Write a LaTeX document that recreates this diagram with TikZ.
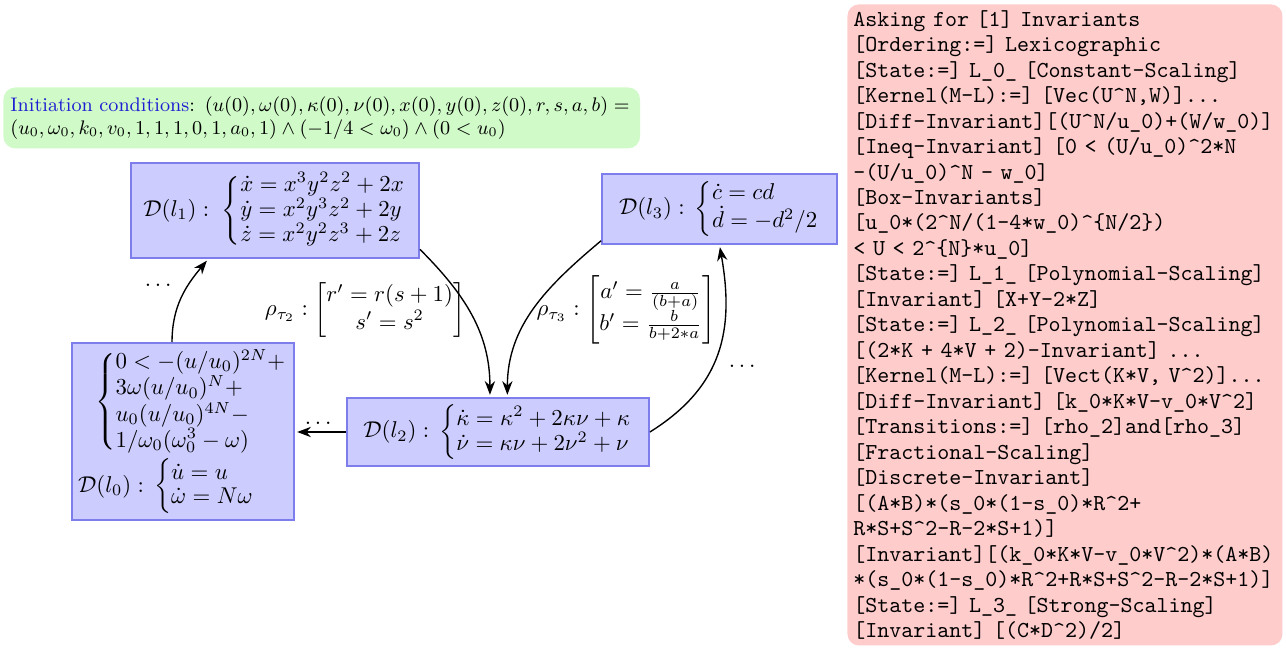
\documentclass[tikz,border=0pt]{standalone}
\usepackage{amsmath,amssymb}
\usetikzlibrary{arrows.meta}
\definecolor{boxfill}{RGB}{204,204,255}
\definecolor{boxline}{RGB}{125,125,235}
\definecolor{greenfill}{RGB}{208,250,200}
\definecolor{pinkfill}{RGB}{255,204,204}
\definecolor{initblue}{RGB}{30,30,210}
\newcommand\pu{0.4375pt}
\newcommand\tc{\textasciicircum}
\newcommand\mycases[2][0.85]{\left\{\def\arraystretch{#1}\begin{array}{@{}l@{}}#2\end{array}\right.}
\begin{document}
\begin{tikzpicture}[x=\pu,y=\pu,
  every node/.style={font=\fontsize{10}{12}\selectfont},
  sysbox/.style={draw=boxline, fill=boxfill, line width=0.8pt, inner sep=2pt, align=center},
  arr/.style={-{Stealth[length=6pt,width=4.5pt]}, semithick, shorten >=1pt},
  dotlabel/.style={inner sep=1pt}
  ]
\useasboundingbox (0,0) rectangle (1286,-648);
% initiation conditions
\node[fill=greenfill, scale=0.955, rounded corners=5.2pt, anchor=north west, inner xsep=7.3*\pu, inner ysep=0pt,
  text width=652*\pu, minimum height=63.9*\pu, align=left, font=\fontsize{9}{10.5}\selectfont] (init) at (3,-87)
  {\mbox{{\color{initblue}Initiation conditions}: $(u(0),\omega(0),\kappa(0),\nu(0),x(0),y(0),z(0),r,s,a,b) =$}\\
   $(u_0,\omega_0,k_0,v_0,1,1,1,0,1,a_0,1)\wedge(-1/4<\omega_0)\wedge(0<u_0)$};
% systems
\node[sysbox, minimum width=288*\pu, minimum height=95*\pu] (l1) at (275,-210.5)
  {$\mathcal{D}(l_1) :\; \mycases[0.82]{\dot x = x^3y^2z^2+2x\\ \dot y = x^2y^3z^2+2y\\ \dot z = x^2y^2z^3+2z}$};
\node[sysbox, minimum width=235*\pu, minimum height=70*\pu] (l3) at (719.5,-209)
  {$\mathcal{D}(l_3) :\, \mycases{\dot c = cd\\ \dot d = -d^2/2}$};
\node[sysbox, minimum width=222*\pu, minimum height=177*\pu, align=left] (l0) at (183,-431.5)
  {\hspace*{7.5pt}$\mycases[0.88]{0 < -(u/u_0)^{2N}+\\ 3\omega(u/u_0)^N+\\ u_0(u/u_0)^{4N}-\\ 1/\omega_0(\omega_0^3-\omega)}$\\[1pt]
   $\mathcal{D}(l_0) :\, \mycases[0.88]{\dot u = u\\ \dot\omega = N\omega}$};
\node[sysbox, minimum width=302*\pu, minimum height=68*\pu] (l2) at (498,-432)
  {$\mathcal{D}(l_2) :\, \mycases{\dot\kappa = \kappa^2+2\kappa\nu+\kappa\\ \dot\nu = \kappa\nu+2\nu^2+\nu}$};
% transition labels
\node (r2) at (365,-310) {$\rho_{\tau_2} : \begin{bmatrix} r' = r(s+1)\\ s' = s^2\end{bmatrix}$};
\node (r3) at (626,-310) {$\rho_{\tau_3} : \begin{bmatrix} a' = \frac{a}{(b+a)}\\ b' = \frac{b}{b+2*a}\end{bmatrix}$};
% connectors
\draw[arr] (l0.97) to[out=90,in=230] (l1.216);
\draw[arr] (l1.-15) to[out=-45,in=90] (l2.103);
\draw[arr] (l3.195) to[out=-140,in=90] (l2.75);
\draw[arr] (l2.east) to[out=32,in=-80,looseness=1.1] (l3.south);
\draw[arr] (l2.west) -- (l2.west -| l0.east);
\node[dotlabel] (dA) at (160,-285) {$\dots$};
\node[dotlabel] (dB) at (320,-423) {$\dots$};
\node[dotlabel] (dC) at (744,-366) {$\dots$};
% invariant listing
\node[fill=pinkfill, rounded corners=5pt, anchor=north west, inner xsep=6*\pu, inner ysep=0pt,
  text width=423*\pu, minimum height=641*\pu, align=left,
  font=\ttfamily\fontsize{10}{11.15}\selectfont] (inv) at (847,-4)
  {Asking for [1] Invariants\\
   {}[Ordering:=] Lexicographic\\
   {}[State:=] L\_0\_ [Constant-Scaling]\\
   {}[Kernel(M-L):=] [Vec(U\tc N,W)]...\\
   {}[Diff-Invariant][(U\tc N/u\_0)+(W/w\_0)]\\
   {}[Ineq-Invariant] [0 < (U/u\_0)\tc 2*N\\
   -(U/u\_0)\tc N - w\_0]\\
   {}[Box-Invariants]\\
   {}[u\_0*(2\tc N/(1-4*w\_0)\tc\{N/2\})\\
   < U < 2\tc\{N\}*u\_0]\\
   {}[State:=] L\_1\_ [Polynomial-Scaling]\\
   {}[Invariant] [X+Y-2*Z]\\
   {}[State:=] L\_2\_ [Polynomial-Scaling]\\
   {}[(2*K + 4*V + 2)-Invariant] ...\\
   {}[Kernel(M-L):=] [Vect(K*V, V\tc 2)]...\\
   {}[Diff-Invariant] [k\_0*K*V-v\_0*V\tc 2]\\
   {}[Transitions:=] [rho\_2]and[rho\_3]\\
   {}[Fractional-Scaling]\\
   {}[Discrete-Invariant]\\
   {}[(A*B)*(s\_0*(1-s\_0)*R\tc 2+\\
   R*S+S\tc 2-R-2*S+1)]\\
   {}[Invariant][(k\_0*K*V-v\_0*V\tc 2)*(A*B)\\
   *(s\_0*(1-s\_0)*R\tc 2+R*S+S\tc 2-R-2*S+1)]\\
   {}[State:=] L\_3\_ [Strong-Scaling]\\
   {}[Invariant] [(C*D\tc 2)/2]};
\end{tikzpicture}
\end{document}
